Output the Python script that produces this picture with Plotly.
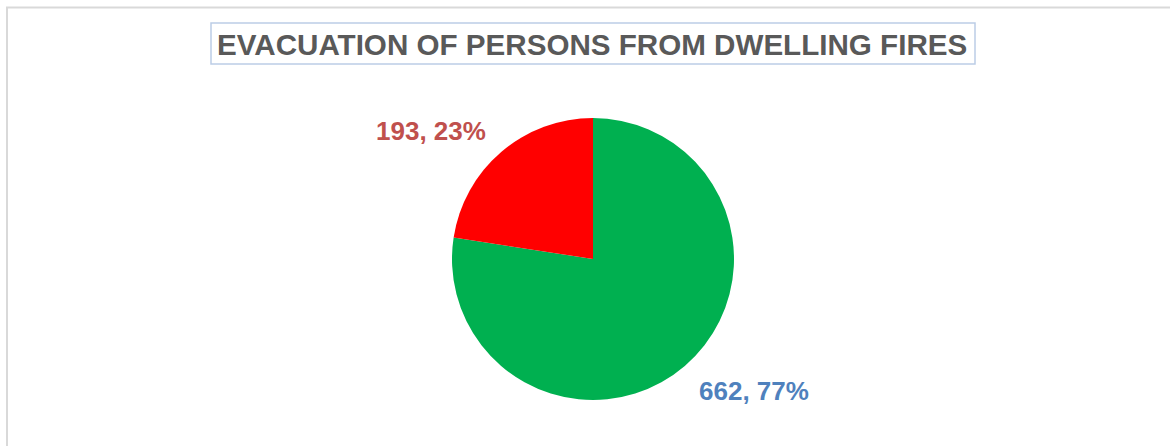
import plotly.graph_objects as go

categories = ["Evacuated", "Not evacuated"]
values = [662, 193]
slice_colors = ["#00B050", "#FF0000"]
label_colors = ["#4F81BD", "#C0504D"]
title_text = "EVACUATION OF PERSONS FROM DWELLING FIRES"

W, H = 1170, 446
total = sum(values)
label_texts = [f"{v}, {round(100 * v / total)}%" for v in values]

fig = go.Figure()
fig.add_trace(go.Pie(
    labels=categories,
    values=values,
    marker=dict(colors=slice_colors, line=dict(width=0)),
    sort=False,
    direction="clockwise",
    rotation=0,
    textinfo="none",
    hoverinfo="label+value+percent",
    showlegend=False,
    domain=dict(x=[452 / W, 734 / W], y=[1 - 400 / H, 1 - 118 / H]),
))

# data label positions (paper coords)
label_pos = [(753.5 / W, 1 - 391 / H), (430.5 / W, 1 - 131 / H)]
for txt, col, (px, py) in zip(label_texts, label_colors, label_pos):
    fig.add_annotation(
        x=px, y=py, xref="paper", yref="paper", text=txt, showarrow=False,
        font=dict(family="Liberation Sans, Arial", size=26, color=col, weight="bold"),
        xanchor="center", yanchor="middle",
    )

# title
fig.add_annotation(
    x=592 / W, y=1 - 44.5 / H, xref="paper", yref="paper", text=title_text,
    showarrow=False, xanchor="center", yanchor="middle",
    font=dict(family="Liberation Sans, Arial", size=29.6, color="#595959", weight="bold"),
)

shapes = [
    # title box
    dict(type="rect", xref="paper", yref="paper", x0=211 / W, x1=975 / W,
         y0=1 - 64 / H, y1=1 - 23 / H, line=dict(color="#BCCDE6", width=1.5),
         fillcolor="rgba(0,0,0,0)"),
    # chart area border (cropped)
    dict(type="rect", xref="paper", yref="paper", x0=7 / W, x1=1.05,
         y0=-0.05, y1=1 - 7.5 / H, line=dict(color="#D9D9D9", width=2),
         fillcolor="rgba(0,0,0,0)"),
]

fig.update_layout(
    width=W, height=H,
    margin=dict(l=0, r=0, t=0, b=0),
    paper_bgcolor="white", plot_bgcolor="white",
    shapes=shapes,
)

fig.write_html("out.html")
